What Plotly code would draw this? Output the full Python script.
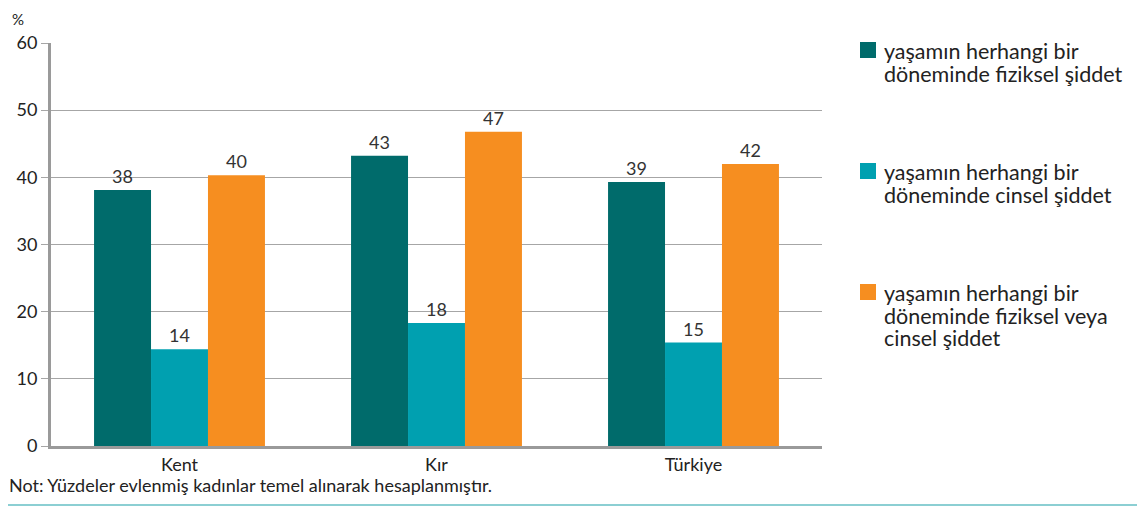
import plotly.graph_objects as go

categories = ["Kent", "Kır", "Türkiye"]
series_names = [
    ["yaşamın herhangi bir", "döneminde fiziksel şiddet"],
    ["yaşamın herhangi bir", "döneminde cinsel şiddet"],
    ["yaşamın herhangi bir", "döneminde fiziksel veya", "cinsel şiddet"],
]
fiziksel = [38.1, 43.2, 39.3]
cinsel = [14.4, 18.3, 15.4]
fiziksel_veya_cinsel = [40.3, 46.8, 42.0]
colors = ["#006b6b", "#00a0b0", "#f68e20"]
y_ticks = [0, 10, 20, 30, 40, 50, 60]
note = "Not: Yüzdeler evlenmiş kadınlar temel alınarak hesaplanmıştır."

FONT = "Lato"
TXT = "#222222"

# page body has an 8px margin; work in screen pixels and offset
OFF = 8
W, H = 1145 - OFF, 507 - OFF
L, R, T, B = 51 - OFF, 822 - OFF, 43 - OFF, 446 - OFF


def px(x):
    return (x - OFF - L) / (R - L)


def py(y):
    return (B - (y - OFF)) / (B - T)


fig = go.Figure()
for i, (name, vals) in enumerate(zip(series_names, [fiziksel, cinsel, fiziksel_veya_cinsel])):
    fig.add_trace(go.Bar(
        x=categories, y=vals, name=" ".join(name), marker=dict(color=colors[i], line=dict(width=0)),
        texttemplate="%{y:.0f}", textposition="outside", cliponaxis=False,
        textfont=dict(size=18, color="#333333", family=FONT),
        showlegend=False,
    ))

annotations = [
    dict(text="%", xref="paper", yref="paper", x=px(18), y=py(8), xanchor="center", yanchor="top",
         showarrow=False, font=dict(size=15, color=TXT)),
    dict(text=note, xref="paper", yref="paper", x=px(7), y=py(485), xanchor="left", yanchor="middle",
         showarrow=False, font=dict(size=18, color=TXT)),
]
shapes = [
    dict(type="line", xref="paper", yref="paper", x0=px(0), x1=px(1145), y0=py(505), y1=py(505),
         line=dict(color="#8ccfd3", width=2)),
]

# legend (manual, to match the reference's spacing)
legend_tops = [42, 163, 284]
line_gap = 22.5
for i, lines in enumerate(series_names):
    top = legend_tops[i]
    shapes.append(dict(type="rect", xref="paper", yref="paper", x0=px(860), x1=px(876),
                       y0=py(top + 16), y1=py(top), fillcolor=colors[i], line=dict(width=0)))
    for j, ln in enumerate(lines):
        annotations.append(dict(text=ln, xref="paper", yref="paper", x=px(882), y=py(top + 9 + j * line_gap),
                                xanchor="left", yanchor="middle", showarrow=False,
                                font=dict(size=21.5, color=TXT, family=FONT)))

fig.update_layout(
    width=W, height=H,
    margin=dict(l=L, r=W - R, t=T, b=H - B, autoexpand=False),
    plot_bgcolor="white", paper_bgcolor="white",
    barmode="group", bargap=0.335, bargroupgap=0,
    font=dict(family=FONT, size=18, color=TXT),
    showlegend=False,
    xaxis=dict(showline=True, linecolor="#9a9a9a", linewidth=3, ticks="",
               tickfont=dict(size=18, color=TXT)),
    yaxis=dict(range=[0, 60], tickvals=y_ticks, showgrid=True, gridcolor="#a6a6a6", gridwidth=1,
               showline=True, linecolor="#9a9a9a", linewidth=3,
               ticks="outside", ticklen=7, tickcolor="#a6a6a6", tickwidth=1,
               tickfont=dict(size=18, color=TXT), zeroline=False),
    annotations=annotations,
    shapes=shapes,
)
fig.write_html("out.html")
